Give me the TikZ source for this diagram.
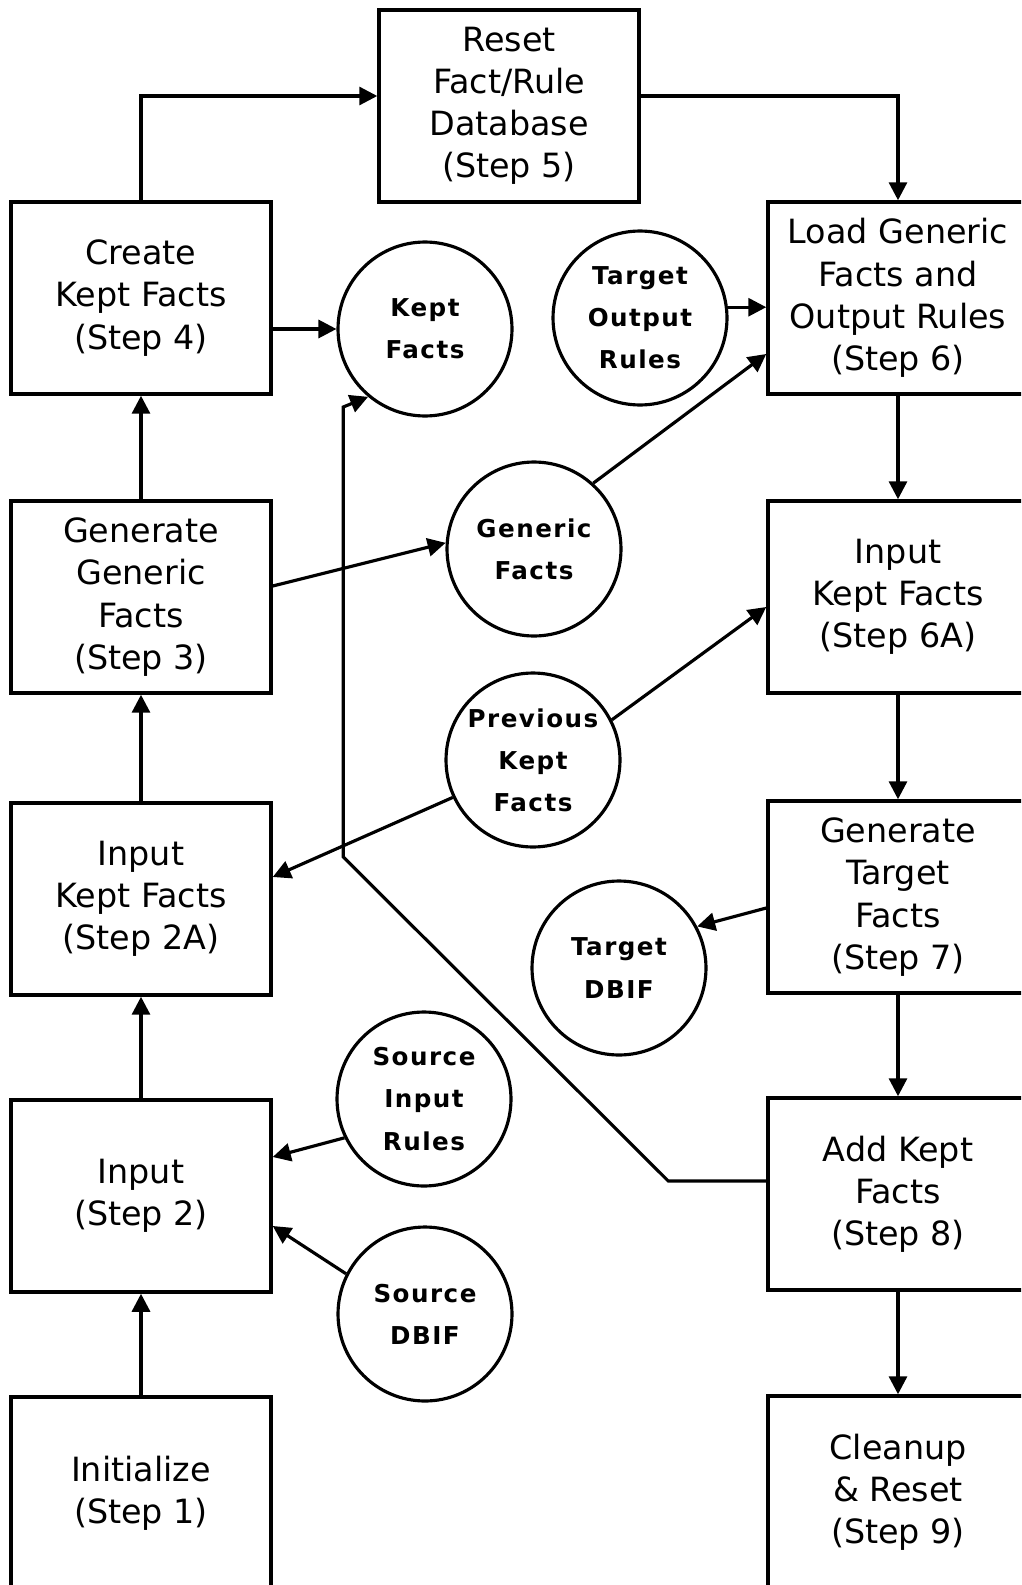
\documentclass[tikz,border=0pt]{standalone}
\usepackage{fontspec}
\setmainfont{DejaVu Sans}
\newfontfamily\bolafont[LetterSpace=6]{DejaVu Sans Bold}
\usepackage{tikz}
\usetikzlibrary{arrows.meta}
\usetikzlibrary{calc}
\tikzset{
  caixa/.style={draw, line width=2pt, minimum width=5.2cm, minimum height=3.84cm, inner sep=0pt, align=center, font=\fontsize{19}{24}\selectfont},
  bola/.style={draw, circle, line width=1.8pt, minimum size=3.48cm, inner sep=0pt, align=center, font=\bolafont\fontsize{14}{24}\selectfont},
  seta/.style={-{Triangle[length=0.36cm, width=0.36cm]}, line width=1.8pt},
}

\begin{document}
\begin{tikzpicture}[x=0.02cm, y=-0.02cm]
  \useasboundingbox (0,0) rectangle (1021,1585);
  \clip (0,0) rectangle (1021,1585);

  \node[caixa] (reset) at (509,106) {Reset\\Fact/Rule\\Database\\(Step 5)};
  \node[caixa] (step4) at (141,298) {Create\\Kept Facts\\(Step 4)};
  \node[caixa] (step3) at (141,597) {Generate\\Generic\\Facts\\(Step 3)};
  \node[caixa] (step2a) at (141,899) {Input\\Kept Facts\\(Step 2A)};
  \node[caixa] (step2) at (141,1196) {Input\\(Step 2)};
  \node[caixa] (step1) at (141,1493) {Initialize\\(Step 1)};
  \node[caixa] (step6) at (898,298) {Load Generic\\Facts and\\Output Rules\\(Step 6)};
  \node[caixa] (step6a) at (898,597) {Input\\Kept Facts\\(Step 6A)};
  \node[caixa] (step7) at (898,897) {Generate\\Target\\Facts\\(Step 7)};
  \node[caixa] (step8) at (898,1194) {Add Kept\\Facts\\(Step 8)};
  \node[caixa] (step9) at (898,1492) {Cleanup\\\& Reset\\(Step 9)};

  \node[bola] (kept) at (425,329) {Kept\\Facts};
  \node[bola] (tor) at (640,318) {Target\\Output\\Rules};
  \node[bola] (generic) at (534,549) {Generic\\Facts};
  \node[bola] (prevkept) at (533,760) {Previous\\Kept\\Facts};
  \node[bola] (tdbif) at (619,968) {Target\\DBIF};
  \node[bola] (sir) at (424,1099) {Source\\Input\\Rules};
  \node[bola] (sdbif) at (425,1314) {Source\\DBIF};

  \draw[seta] (step1.north) -- (step2.south);
  \draw[seta] (step2.north) -- (step2a.south);
  \draw[seta] (step2a.north) -- (step3.south);
  \draw[seta] (step3.north) -- (step4.south);
  \draw[seta] (step4.north) |- ($(reset.west)+(0,-10)$);
  \draw[seta] ($(reset.east)+(0,-10)$) -| (step6.north);
  \draw[seta] (step6.south) -- (step6a.north);
  \draw[seta] (step6a.south) -- (step7.north);
  \draw[seta] (step7.south) -- (step8.north);
  \draw[seta] (step8.south) -- (step9.north);

  \draw[seta] (step4.east |- kept.west) -- (kept.west);
  \draw[seta] ($(step3.east)+(0,-11)$) -- (generic.176);
  \draw[seta] (generic.48) -- ($(step6.west)+(0,56)$);
  \draw[seta] (tor.7) -- (tor.7 -| step6.west);
  \draw[seta] (prevkept.27) -- ($(step6a.west)+(0,10)$);
  \draw[seta] (prevkept.205) -- ($(step2a.east)+(0,-22)$);
  \draw[seta] ($(step7.west)+(0,11)$) -- (tdbif.28);
  \draw[seta] (sir.206) -- ($(step2.east)+(0,-39)$);
  \draw[seta] (sdbif.153) -- ($(step2.east)+(0,30)$);
  \draw[seta] ($(step8.west)+(0,-13)$) -- ++(-98,0) -- ++(-325,-324) -- ++(0,-450) -- (kept.230);
\end{tikzpicture}
\end{document}
